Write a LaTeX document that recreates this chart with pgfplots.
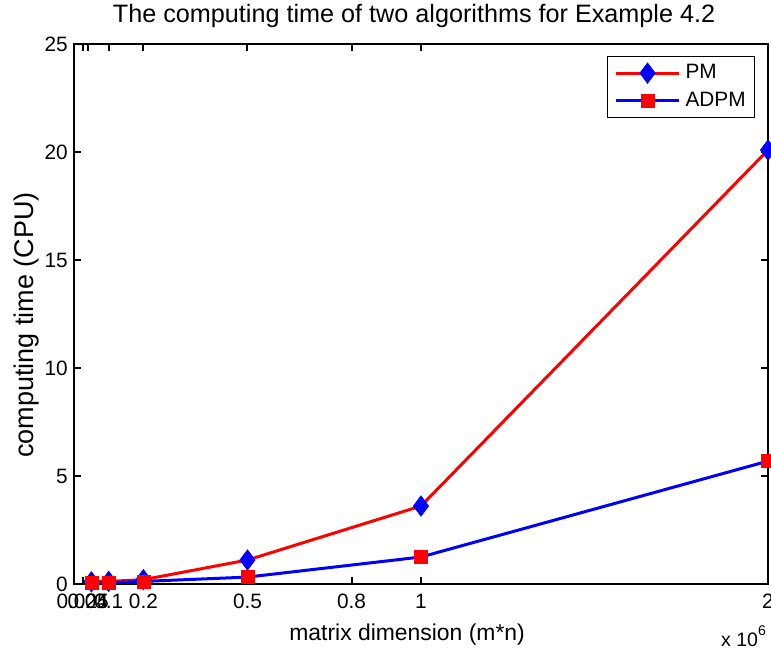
\documentclass[border=0pt]{standalone}
\usepackage{fontspec}
\setmainfont{Liberation Sans}
\usepackage{pgfplots}
\pgfplotsset{compat=1.18}
\begin{document}
\fontsize{20.8}{25}\selectfont
\begin{tikzpicture}
\path[use as bounding box] (-74pt,-67pt) rectangle (697pt,584pt);
\begin{axis}[
  scale only axis, width=694pt, height=540pt,
  at={(0,0)}, anchor=south west,
  clip mode=individual,
  xmin=0, xmax=2000000, ymin=0, ymax=25,
  xtick={25000,40000,100000,200000,500000,800000,1000000,2000000},
  xticklabels={0.025,0.04,0.1,0.2,0.5,0.8,1,2},
  scaled x ticks=false,
  ytick={0,5,10,15,20,25},
  tick align=inside, major tick length=7pt,
  every tick/.style={black, line width=2pt},
  axis line style={line width=2.7pt},
  /pgf/number format/assume math mode=true,
  tick label style={font=\fontsize{20.8}{25}\selectfont},
  xticklabel style={inner sep=0pt, yshift=-10pt},
  yticklabel style={inner sep=0pt, xshift=-6pt},
  title={The computing time of two algorithms for Example 4.2},
  title style={at={(axis description cs:0.49,1.0278)}, anchor=base, font=\fontsize{25.2}{30}\selectfont},
  xlabel={matrix dimension (m*n)},
  xlabel style={at={(axis description cs:0.48,-0.1037)}, anchor=base, font=\fontsize{22.9}{27}\selectfont},
  ylabel={computing time (CPU)},
  ylabel style={at={(axis description cs:-0.059,0.48)}, anchor=base, font=\fontsize{27}{32}\selectfont},
  legend cell align=left,
  legend image code/.code={\draw[mark repeat=2,mark phase=2,#1] plot coordinates {(0pt,0pt) (31.5pt,0pt) (63pt,0pt)};},
  legend style={at={(axis description cs:0.9813,0.9778)}, anchor=north east,
    draw=black, line width=0.8pt, inner xsep=7pt, inner ysep=6pt,
    font=\fontsize{20.8}{25}\selectfont, row sep=6pt, column sep=3pt,
    nodes={inner sep=2pt}},
]
\addplot[red, line width=3pt, mark=diamond*, mark size=10.3pt,
  mark options={fill=blue, draw=blue, line width=0.5pt}]
  coordinates {(50000,0.10) (100000,0.12) (200000,0.20) (500000,1.11) (1000000,3.61) (2000000,20.09)};
\addlegendentry{PM}
\addplot[blue, line width=3pt, mark=square*, mark size=6.5pt,
  mark options={fill=red, draw=red, line width=0.5pt}]
  coordinates {(50000,0.05) (100000,0.06) (200000,0.12) (500000,0.32) (1000000,1.25) (2000000,5.69)};
\addlegendentry{ADPM}
\node[anchor=base east, inner sep=0pt, xshift=-2pt, yshift=-62pt, font=\fontsize{19.5}{23}\selectfont] at (rel axis cs:1,0) {x 10\raisebox{0.55em}{\fontsize{14}{16}\selectfont 6}};
\end{axis}
\end{tikzpicture}
\end{document}
